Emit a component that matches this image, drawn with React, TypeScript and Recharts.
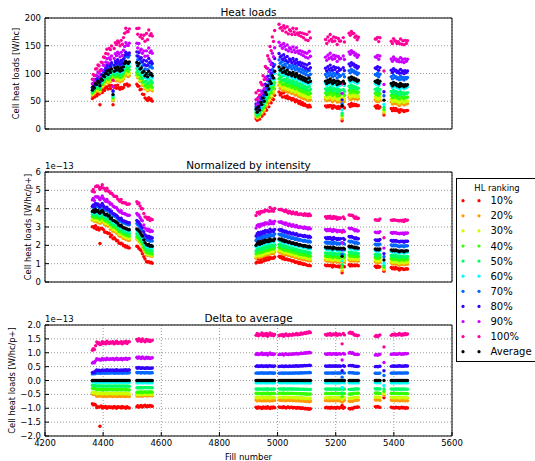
import React from "react";
import { ScatterChart, Scatter, XAxis, YAxis, CartesianGrid } from "recharts";

// fill numbers, average cell heat load [W/hc] and average normalized load [1e-13 W/hc/p+]
const fillsA = [4363, 4366, 4370, 4374, 4378, 4382, 4386, 4389, 4393, 4397, 4401, 4405, 4409, 4413, 4417, 4421, 4425, 4429, 4434, 4438, 4442, 4446, 4450, 4454, 4458, 4462, 4466, 4470, 4474, 4478, 4482, 4486, 4490];
const loadA = [70, 76, 74, 82, 80, 86, 84, 78, 90, 88, 96, 94, 100, 104, 98, 106, 102, 108, 62, 104, 110, 106, 112, 108, 104, 110, 106, 112, 118, 122, 120, 118, 121];
const normA = [3.85, 3.9, 3.8, 3.95, 3.85, 3.9, 3.8, 3.75, 3.85, 3.9, 3.8, 3.7, 3.65, 3.7, 3.6, 3.6, 3.45, 3.5, 3.35, 3.35, 3.3, 3.25, 3.2, 3.1, 3.05, 3.1, 3.0, 2.95, 2.95, 2.9, 2.9, 2.85, 2.85];
const spreadA = [0.95, 1.0, 0.97, 0.92, 1.02, 0.98, 1.0, 1.0, 0.96, 1.03, 0.98, 1.01, 0.97, 1.04, 1.0, 0.98, 1.02, 0.99, 1.03, 0.97, 1.0, 1.04, 0.98, 1.01, 0.99, 1.03, 0.97, 1.02, 1.0, 1.04, 0.98, 1.02, 1.03];

const fillsB = [4516, 4519, 4523, 4527, 4531, 4535, 4540, 4544, 4549, 4553, 4557, 4561, 4565, 4569];
const loadB = [120, 114, 118, 108, 110, 102, 104, 96, 100, 94, 104, 98, 100, 96];
const normB = [2.9, 2.85, 2.8, 2.7, 2.6, 2.5, 2.3, 2.15, 2.05, 2.0, 2.05, 1.95, 2.0, 1.95];
const spreadB = [1.02, 0.98, 1.04, 1.0, 0.97, 1.03, 0.99, 0.96, 1.02, 0.98, 1.01, 0.97, 0.99, 1.0];

const fillsC = [4926, 4930, 4934, 4938, 4942, 4946, 4950, 4954, 4958, 4962, 4966, 4970, 4974, 4978, 4982, 4986, 4990];
const loadC = [36, 30, 40, 34, 48, 44, 56, 50, 66, 62, 78, 72, 86, 82, 96, 92, 104];
const normC = [2.0, 2.1, 2.2, 2.05, 2.2, 2.1, 2.25, 2.15, 2.3, 2.2, 2.3, 2.2, 2.35, 2.25, 2.3, 2.25, 2.35];
const spreadC = [0.98, 1.02, 0.97, 1.0, 0.99, 1.03, 0.97, 1.01, 0.98, 1.02, 0.96, 1.0, 1.03, 0.98, 1.01, 0.97, 1.0];

const fillsD = [5005, 5009, 5013, 5017, 5021, 5025, 5029, 5033, 5037, 5041, 5045, 5049, 5053, 5057, 5061, 5065, 5069, 5073, 5077, 5081, 5085, 5089, 5093, 5097, 5101, 5105, 5109, 5113];
const loadD = [112, 106, 108, 102, 110, 104, 100, 106, 98, 102, 100, 96, 102, 98, 94, 100, 96, 92, 96, 90, 94, 88, 92, 86, 90, 84, 92, 86];
const normD = [2.35, 2.3, 2.35, 2.25, 2.3, 2.2, 2.25, 2.2, 2.15, 2.2, 2.15, 2.1, 2.15, 2.1, 2.05, 2.1, 2.05, 2.0, 2.05, 2.0, 2.0, 1.95, 2.0, 1.95, 1.95, 1.9, 1.95, 1.9];
const spreadD = [0.97, 0.99, 0.98, 1.0, 0.96, 0.99, 1.01, 0.98, 0.97, 1.0, 0.99, 0.98, 1.01, 0.99, 1.0, 1.02, 0.99, 1.01, 1.0, 1.03, 1.01, 1.02, 1.04, 1.02, 1.05, 1.03, 1.06, 1.04];

const fillsE = [5165, 5169, 5173, 5177, 5181, 5185, 5189, 5193, 5197, 5201, 5205, 5209, 5213, 5217, 5222, 5226, 5230];
const loadE = [86, 82, 88, 84, 90, 86, 82, 88, 84, 86, 80, 86, 82, 84, 42, 86, 82];
const normE = [1.9, 1.85, 1.9, 1.85, 1.9, 1.85, 1.8, 1.9, 1.85, 1.85, 1.8, 1.85, 1.8, 1.85, 1.4, 1.85, 1.8];
const spreadE = [1.0, 0.98, 1.01, 0.99, 1.02, 0.98, 1.0, 1.01, 0.99, 1.02, 0.98, 1.0, 1.01, 0.99, 1.0, 1.02, 0.99];

const fillsF = [5246, 5250, 5254, 5258, 5262, 5266, 5270, 5274, 5278];
const loadF = [92, 88, 94, 90, 92, 88, 90, 86, 88];
const normF = [1.95, 1.9, 1.95, 1.9, 1.9, 1.85, 1.9, 1.85, 1.85];
const spreadF = [1.03, 1.05, 1.02, 1.04, 1.0, 0.98, 0.99, 0.97, 0.98];

const fillsG = [5336, 5340, 5344, 5348, 5352, 5366];
const loadG = [86, 84, 88, 82, 86, 52];
const normG = [1.8, 1.75, 1.8, 1.75, 1.8, 1.2];
const spreadG = [0.96, 0.98, 0.95, 0.97, 0.99, 1.0];

const fillsH = [5391, 5395, 5399, 5403, 5407, 5411, 5415, 5419, 5423, 5427, 5431, 5435, 5439, 5443, 5447];
const loadH = [82, 78, 84, 80, 82, 78, 80, 76, 82, 78, 80, 76, 80, 78, 80];
const normH = [1.75, 1.7, 1.75, 1.7, 1.75, 1.7, 1.7, 1.65, 1.7, 1.7, 1.7, 1.65, 1.7, 1.7, 1.7];
const spreadH = [0.98, 1.0, 0.99, 1.01, 0.98, 1.0, 0.99, 1.02, 1.0, 0.98, 1.01, 0.99, 1.02, 1.0, 1.01];

// offsets of each ranking from the average, normalized units (10% .. 100%)
const deltaFirst = [-0.88, -0.5, -0.45, -0.3, -0.18, -0.05, 0.25, 0.3, 0.66, 1.15];
const deltaEarly = [-0.96, -0.56, -0.47, -0.33, -0.2, -0.06, 0.27, 0.37, 0.77, 1.36];
const deltaOdd = [-1.65, -0.55, -0.47, -0.33, -0.2, -0.06, 0.27, 0.35, 0.74, 1.3];
const deltaSecond = [-0.93, -0.55, -0.5, -0.42, -0.26, -0.08, 0.28, 0.45, 0.82, 1.45];
const deltaLate = [-0.98, -0.72, -0.62, -0.47, -0.31, -0.08, 0.27, 0.52, 0.96, 1.66];
const deltaDip1 = [-0.9, -0.78, -0.68, -0.58, -0.45, -0.25, 0.12, 0.35, 0.74, 1.32];
const deltaDip2 = [-0.62, -0.53, -0.47, -0.39, -0.3, -0.18, 0.18, 0.35, 0.65, 1.21];

const specialFills: Record<number, number[]> = {
  4363: deltaFirst,
  4366: deltaFirst,
  4370: deltaFirst,
  4389: deltaOdd,
  5222: deltaDip1,
  5366: deltaDip2,
};

const rankLabels = ["10%", "20%", "30%", "40%", "50%", "60%", "70%", "80%", "90%", "100%"];
const rankColors = ["#ff0000", "#ff9900", "#ccff00", "#33ff00", "#00ff66", "#00ffff", "#0066ff", "#3300ff", "#cc00ff", "#ff0099"];

const fillTicks = [4200, 4400, 4600, 4800, 5000, 5200, 5400, 5600];
const loadTicks = [0, 50, 100, 150, 200];
const normTicks = [0, 1, 2, 3, 4, 5, 6];
const deltaTicks = [-2, -1.5, -1, -0.5, 0, 0.5, 1, 1.5, 2];

const blocks = [
  { fills: fillsA, load: loadA, norm: normA, spread: spreadA, delta: deltaEarly },
  { fills: fillsB, load: loadB, norm: normB, spread: spreadB, delta: deltaSecond },
  { fills: fillsC, load: loadC, norm: normC, spread: spreadC, delta: deltaLate },
  { fills: fillsD, load: loadD, norm: normD, spread: spreadD, delta: deltaLate },
  { fills: fillsE, load: loadE, norm: normE, spread: spreadE, delta: deltaLate },
  { fills: fillsF, load: loadF, norm: normF, spread: spreadF, delta: deltaLate },
  { fills: fillsG, load: loadG, norm: normG, spread: spreadG, delta: deltaLate },
  { fills: fillsH, load: loadH, norm: normH, spread: spreadH, delta: deltaLate },
];

type Pt = { x: number; y: number };
type Kind = "load" | "norm" | "delta";

function buildSeries(kind: Kind): Pt[][] {
  const out: Pt[][] = rankLabels.map(() => []);
  const avg: Pt[] = [];
  blocks.forEach((b) => {
    b.fills.forEach((f, i) => {
      const d = specialFills[f] || b.delta;
      const L = b.load[i];
      const N = b.norm[i];
      const s = b.spread[i];
      d.forEach((d0, k) => {
        const dk = d0 * s;
        const y = kind === "load" ? L * (1 + dk / N) : kind === "norm" ? N + dk : dk;
        out[k].push({ x: f, y });
      });
      avg.push({ x: f, y: kind === "load" ? L : kind === "norm" ? N : 0 });
    });
  });
  return [...out, avg];
}

const allColors = [...rankColors, "#000000"];
const FONT = "DejaVu Sans, sans-serif";
const W = 535;
const PLOT_R = 452;
const minus = (s: string) => s.replace("-", "\u2212");

const dot = (color: string) => (p: any) => (
  <circle cx={p.cx} cy={p.cy} r={1.7} fill={color} />
);

interface PanelProps {
  top: number;
  plotTop: number;
  plotH: number;
  kind: Kind;
  domain: [number, number];
  ticks: number[];
  fmt: (v: number) => string;
  showX: boolean;
}

function Panel({ top, plotTop, plotH, kind, domain, ticks, fmt, showX }: PanelProps) {
  const series = buildSeries(kind);
  const xh = showX ? 20 : 4;
  const mTop = plotTop - top - 1;
  const height = mTop + 1 + plotH + xh;
  const tickStyle = { fontSize: 8.5, fill: "#000", fontFamily: FONT };
  return (
    <div style={{ position: "absolute", left: 0, top }}>
      <ScatterChart width={W} height={height} margin={{ top: mTop, right: W - PLOT_R - 1, bottom: 0, left: 0 }}>
        <CartesianGrid xAxisId="b" yAxisId="l" stroke="#9a9a9a" strokeDasharray="1 2" />
        <XAxis xAxisId="b" dataKey="x" type="number" domain={[4200, 5600]} ticks={fillTicks} interval={0} allowDataOverflow
          height={xh} tickSize={-4} tickMargin={8} stroke="#000" tick={showX ? tickStyle : false} />
        <XAxis xAxisId="t" orientation="top" type="number" domain={[4200, 5600]} ticks={fillTicks} interval={0} allowDataOverflow
          height={1} tickSize={-4} stroke="#000" tick={false} />
        <YAxis yAxisId="l" dataKey="y" type="number" domain={domain} ticks={ticks} interval={0} allowDataOverflow
          width={45} tickSize={-4} tickMargin={8} stroke="#000" tick={tickStyle} tickFormatter={fmt} />
        <YAxis yAxisId="r" orientation="right" type="number" domain={domain} ticks={ticks} interval={0} allowDataOverflow
          width={1} tickSize={-4} stroke="#000" tick={false} />
        {series.map((data, k) => (
          <Scatter key={k} xAxisId="b" yAxisId="l" data={data} fill={allColors[k]}
            shape={dot(allColors[k])} isAnimationActive={false} />
        ))}
      </ScatterChart>
    </div>
  );
}

function Legend() {
  const top = 178;
  return (
    <svg width={90} height={190} style={{ position: "absolute", left: 456, top, overflow: "visible" }}>
      <rect x={0.5} y={0.5} width={95} height={183} fill="#fff" stroke="#000" />
      <text x={41} y={10} fontSize={8.4} fontFamily={FONT} textAnchor="middle" dominantBaseline="central">HL ranking</text>
      {[...rankLabels, "Average"].map((lab, i) => {
        const y = 22.7 + i * 15.1;
        return (
          <g key={lab}>
            <circle cx={7} cy={y} r={1.6} fill={allColors[i]} />
            <circle cx={23} cy={y} r={1.6} fill={allColors[i]} />
            <text x={34.5} y={y} fontSize={10} fontFamily={FONT} dominantBaseline="central">{lab}</text>
          </g>
        );
      })}
    </svg>
  );
}

export default function App() {
  const cx = (45 + PLOT_R) / 2;
  const t = { fontFamily: FONT, fill: "#000" };
  return (
    <div style={{ position: "absolute", left: 0, top: 0, width: W, height: 461, overflow: "hidden", background: "#fff" }}>
      <Panel top={0} plotTop={18} plotH={111} kind="load" domain={[0, 200]} ticks={loadTicks} fmt={(v) => String(v)} showX={false} />
      <Panel top={150} plotTop={172} plotH={110} kind="norm" domain={[0, 6]} ticks={normTicks} fmt={(v) => String(v)} showX={false} />
      <Panel top={300} plotTop={325} plotH={111} kind="delta" domain={[-2, 2]} ticks={deltaTicks} fmt={(v) => minus(v.toFixed(1))} showX={true} />
      <svg width={W} height={461} style={{ position: "absolute", left: 0, top: 0, pointerEvents: "none" }}>
        <text {...t} x={cx} y={11.5} fontSize={10.5} textAnchor="middle" dominantBaseline="central">Heat loads</text>
        <text {...t} x={cx} y={165} fontSize={10.5} textAnchor="middle" dominantBaseline="central">Normalized by intensity</text>
        <text {...t} x={cx} y={318} fontSize={10.5} textAnchor="middle" dominantBaseline="central">Delta to average</text>
        <text {...t} x={45} y={166} fontSize={8.5} dominantBaseline="central">1e{"\u2212"}13</text>
        <text {...t} x={45} y={318.5} fontSize={8.5} dominantBaseline="central">1e{"\u2212"}13</text>
        <text {...t} x={16} y={73.5} fontSize={8.3} textAnchor="middle" dominantBaseline="central" transform="rotate(-90 16 73.5)">Cell heat loads [W/hc]</text>
        <text {...t} x={28} y={227} fontSize={8.3} textAnchor="middle" dominantBaseline="central" transform="rotate(-90 28 227)">Cell heat loads [W/hc/p+]</text>
        <text {...t} x={12} y={380.5} fontSize={8.3} textAnchor="middle" dominantBaseline="central" transform="rotate(-90 12 380.5)">Cell heat loads [W/hc/p+]</text>
        <text {...t} x={cx} y={456.5} fontSize={8.5} textAnchor="middle" dominantBaseline="central">Fill number</text>
      </svg>
      <Legend />
    </div>
  );
}
